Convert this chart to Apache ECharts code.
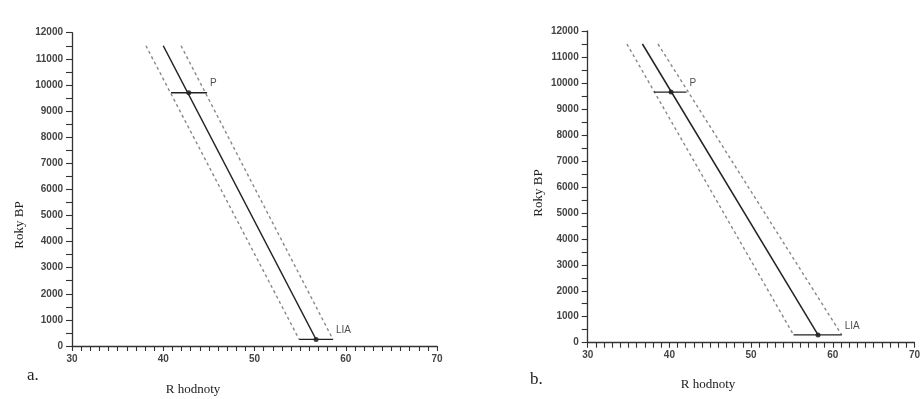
<!DOCTYPE html>
<html><head><meta charset="utf-8">
<script src="https://cdn.jsdelivr.net/npm/echarts@6/dist/echarts.min.js"></script>
<style>html,body{margin:0;padding:0;background:#fff}#c{width:923px;height:399px}</style>
</head><body><div id="c"></div>
<script>
// Panel a
const solidA = [[40.0, 11500], [56.75, 250]];
const lowerA = [[38.1, 11500], [54.9, 250]];
const upperA = [[41.95, 11500], [58.6, 250]];
const pointNames = ['P', 'LIA'];
const pointsA = [[42.8, 9700], [56.75, 250]];
const barsA = [[40.85, 44.8], [54.9, 58.6]];
// Panel b
const solidB = [[36.7, 11500], [58.2, 300]];
const lowerB = [[34.8, 11500], [55.2, 300]];
const upperB = [[38.6, 11500], [61.1, 300]];
const pointsB = [[40.2, 9650], [58.2, 300]];
const barsB = [[38.1, 42.1], [55.2, 61.1]];
// axes
const xRange = [30, 70];
const yRange = [0, 12000];

const chart = echarts.init(document.getElementById('c'), null, {renderer: 'canvas'});
const labelStyle = {color: '#444', fontSize: 10, fontFamily: 'Liberation Sans', fontWeight: 'bold', formatter: v => String(v)};
function xAxis(gi) {
  return {type: 'value', gridIndex: gi, min: xRange[0], max: xRange[1], interval: 10,
    axisLine: {lineStyle: {color: '#333', width: 1.3}},
    axisTick: {show: true, length: 5, lineStyle: {color: '#333', width: 1.1}},
    minorTick: {show: true, splitNumber: 10, length: 5, lineStyle: {color: '#333', width: 1.1}},
    splitLine: {show: false},
    axisLabel: Object.assign({margin: 8}, labelStyle)};
}
function yAxis(gi) {
  return {type: 'value', gridIndex: gi, min: yRange[0], max: yRange[1], interval: 1000,
    axisLine: {show: true, lineStyle: {color: '#333', width: 1.3}},
    axisTick: {show: true, length: 6, lineStyle: {color: '#333', width: 1.1}},
    minorTick: {show: true, splitNumber: 2, length: 6, lineStyle: {color: '#333', width: 1.1}},
    splitLine: {show: false},
    axisLabel: Object.assign({margin: 9}, labelStyle)};
}
function lineS(gi, data, dashed) {
  return {type: 'line', xAxisIndex: gi, yAxisIndex: gi, data: data, symbol: 'none', silent: true,
    lineStyle: dashed ? {color: '#888', width: 1.4, type: [3, 3]} : {color: '#222', width: 1.5}};
}
function barS(gi, bars, pts) {
  return bars.map((b, i) => ({type: 'line', xAxisIndex: gi, yAxisIndex: gi, symbol: 'none', silent: true,
    data: [[b[0], pts[i][1]], [b[1], pts[i][1]]], lineStyle: {color: '#222', width: 1.3}}));
}
function ptS(gi, pts, bars) {
  return [{type: 'scatter', xAxisIndex: gi, yAxisIndex: gi, symbolSize: 5, itemStyle: {color: '#111'},
    data: pts}, {type: 'scatter', xAxisIndex: gi, yAxisIndex: gi, symbolSize: 0,
    data: pts.map((p, i) => ({value: [bars[i][1], p[1]], name: pointNames[i]})),
    label: {show: true, position: 'right', distance: 3, offset: [0, -9], formatter: '{b}',
      color: '#222', fontSize: 10, fontFamily: 'Liberation Sans'}}];
}
const serif = 'Liberation Serif';
chart.setOption({
  animation: false,
  grid: [
    {left: 72, top: 32.7, width: 365, height: 313.3},
    {left: 587.7, top: 31, width: 341, height: 311.7}
  ],
  xAxis: [xAxis(0), xAxis(1)],
  yAxis: [yAxis(0), yAxis(1)],
  series: [
    lineS(0, solidA, false), lineS(0, lowerA, true), lineS(0, upperA, true),
    ...barS(0, barsA, pointsA), ...ptS(0, pointsA, barsA),
    lineS(1, solidB, false), lineS(1, lowerB, true), lineS(1, upperB, true),
    ...barS(1, barsB, pointsB), ...ptS(1, pointsB, barsB)
  ],
  graphic: [
    {type: 'text', x: 20, y: 225, rotation: Math.PI / 2, style: {text: 'Roky BP', font: '13px ' + serif, fill: '#222', align: 'center', verticalAlign: 'middle'}},
    {type: 'text', x: 193, y: 390, style: {text: 'R hodnoty', font: '13px ' + serif, fill: '#222', align: 'center', verticalAlign: 'middle'}},
    {type: 'text', x: 27, y: 376, style: {text: 'a.', font: '17px ' + serif, fill: '#222', align: 'left', verticalAlign: 'middle'}},
    {type: 'text', x: 539, y: 193, rotation: Math.PI / 2, style: {text: 'Roky BP', font: '13px ' + serif, fill: '#222', align: 'center', verticalAlign: 'middle'}},
    {type: 'text', x: 708, y: 385, style: {text: 'R hodnoty', font: '13px ' + serif, fill: '#222', align: 'center', verticalAlign: 'middle'}},
    {type: 'text', x: 530, y: 380, style: {text: 'b.', font: '17px ' + serif, fill: '#222', align: 'left', verticalAlign: 'middle'}}
  ]
});
</script></body></html>
